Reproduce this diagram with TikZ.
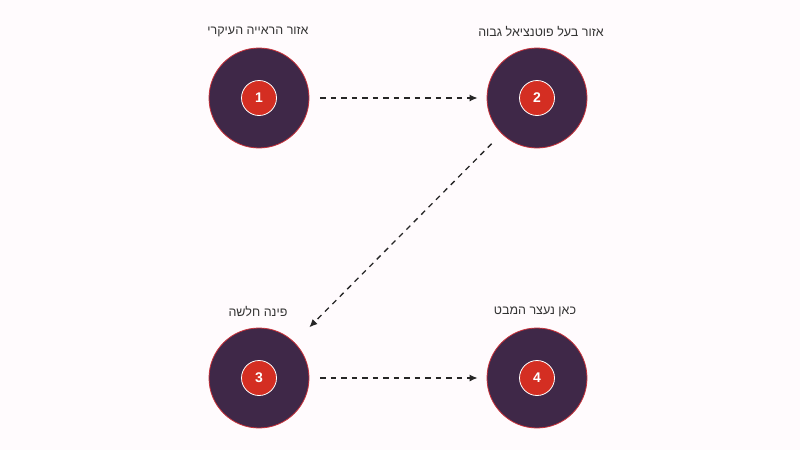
\documentclass[tikz,border=0pt]{standalone}
\usepackage{fontspec}
\setmainfont{Liberation Sans}
\newfontfamily\hebfont[Script=Hebrew]{Liberation Sans}
\TeXXeTstate=1
\usetikzlibrary{arrows.meta}
\definecolor{bgc}{HTML}{FFFBFD}
\definecolor{outerc}{HTML}{3F2848}
\definecolor{rimc}{HTML}{C8313A}
\definecolor{innerc}{HTML}{D42E22}
\definecolor{labc}{HTML}{333333}
\tikzset{
  outer/.style={circle, fill=outerc, draw=rimc, line width=0.8pt, minimum size=100pt, inner sep=0pt},
  inner/.style={circle, fill=innerc, draw=white, line width=0.8pt, minimum size=35pt, inner sep=0pt, text=white, font=\bfseries\fontsize{14}{14}\selectfont},
  lab/.style={text=labc, font=\hebfont\fontsize{12.5}{14}\selectfont},
  conn/.style={draw=black!85, dashed, dash pattern=on 5.5pt off 5pt, line width=1.3pt, -{Latex[length=8pt,width=7pt]}}
}
\begin{document}
\begin{tikzpicture}[x=1pt,y=-1pt]
\fill[bgc] (0,0) rectangle (800,450);
\useasboundingbox (0,0) rectangle (800,450);
\node[outer] (n1) at (259,98) {};
\node[outer] (n2) at (537,98) {};
\node[outer] (n3) at (259,378) {};
\node[outer] (n4) at (537,378) {};
\node[inner] (i1) at (n1) {1};
\node[inner] (i2) at (n2) {2};
\node[inner] (i3) at (n3) {3};
\node[inner] (i4) at (n4) {4};
\node[lab] (l1) at (258,31.5) {\beginR אזור הראייה העיקרי\endR};
\node[lab] (l2) at (541,31.5) {\beginR אזור בעל פוטנציאל גבוה\endR};
\node[lab] (l3) at (258,311.5) {\beginR פינה חלשה\endR};
\node[lab] (l4) at (535,311.5) {\beginR כאן נעצר המבט\endR};
\draw[conn, shorten <=11pt, shorten >=9pt] (n1) -- (n2);
\draw[conn, shorten <=14pt, shorten >=21pt] (n2) -- (n3);
\draw[conn, shorten <=11pt, shorten >=9pt] (n3) -- (n4);
\end{tikzpicture}
\end{document}
